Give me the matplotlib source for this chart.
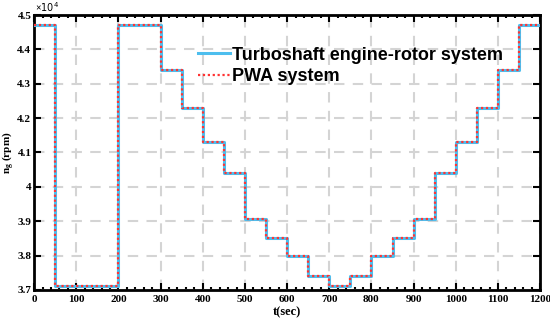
import matplotlib
matplotlib.use("Agg")
import matplotlib.pyplot as plt
from matplotlib.ticker import MultipleLocator
from matplotlib.font_manager import FontProperties

# Data (step levels, in units of 1e4 rpm)
edges = [0, 50, 200, 300, 350, 400, 450, 500, 550, 600, 650, 700, 750,
         800, 850, 900, 950, 1000, 1050, 1100, 1150, 1200]
levels = [4.47, 3.71, 4.47, 4.34, 4.23, 4.13, 4.04, 3.905, 3.85, 3.80, 3.74,
          3.71, 3.74, 3.80, 3.85, 3.905, 4.04, 4.13, 4.23, 4.34, 4.47]
xticks = [0, 100, 200, 300, 400, 500, 600, 700, 800, 900, 1000, 1100, 1200]
yticks = [3.7, 3.8, 3.9, 4.0, 4.1, 4.2, 4.3, 4.4, 4.5]
ytick_labels = ["3.7", "3.8", "3.9", "4", "4.1", "4.2", "4.3", "4.4", "4.5"]
series_names = ["Turboshaft engine-rotor system", "PWA system"]

plt.rcParams['mathtext.fontset'] = 'custom'
plt.rcParams['mathtext.rm'] = 'Liberation Serif:bold'
plt.rcParams['mathtext.it'] = 'Liberation Serif:bold'
plt.rcParams['mathtext.bf'] = 'Liberation Serif:bold'

fig = plt.figure(figsize=(5.5, 3.2), dpi=100)
ax = fig.add_axes([0.062, 0.094, 0.92, 0.859])

yvals = levels + [levels[-1]]
ax.step(edges, yvals, where='post', color='#4DBEEE', lw=2.2, label=series_names[0], zorder=3)
ax.step(edges, yvals, where='post', color='#FF3333', lw=1.6, ls=(0, (1, 1.2)), label=series_names[1], zorder=4)

ax.set_xlim(0, 1200)
ax.set_ylim(3.7, 4.5)
ax.set_xticks(xticks)
ax.set_yticks(yticks)
ax.set_yticklabels(ytick_labels)
ax.xaxis.set_minor_locator(MultipleLocator(20))

tfont = dict(family='Liberation Serif', weight='bold', size=8)
for lab in ax.get_xticklabels() + ax.get_yticklabels():
    lab.set_fontproperties(FontProperties(**tfont))

ax.tick_params(which='both', direction='in', top=True, right=True, width=1.5)
ax.tick_params(which='major', length=5)
ax.tick_params(axis='y', which='major', pad=2)
ax.tick_params(axis='x', which='major', pad=4)
ax.tick_params(which='minor', length=2.5)
for s in ax.spines.values():
    s.set_linewidth(2)

ax.grid(True, which='major', color='#d4d4d4', ls=(0, (5, 4)), lw=1.5, zorder=0)
ax.set_axisbelow(True)

ax.set_xlabel('t(sec)', fontdict=dict(family='Liberation Serif', weight='bold', size=9), labelpad=1)
ax.set_ylabel(r'$\mathregular{n_g}$ (rpm)', fontdict=tfont, labelpad=1)
ax.text(0.002, 1.004, r'$\times\mathregular{10^{4}}$', transform=ax.transAxes,
        fontsize=7, va='bottom', ha='left')

leg = ax.legend(loc='upper right', bbox_to_anchor=(0.927, 0.885), frameon=False,
                prop=dict(family='Liberation Sans', weight='bold', size=13),
                handlelength=1.8, handletextpad=0.1, labelspacing=0.25, borderpad=0,
                borderaxespad=0)

fig.savefig('out.png', dpi=100)
